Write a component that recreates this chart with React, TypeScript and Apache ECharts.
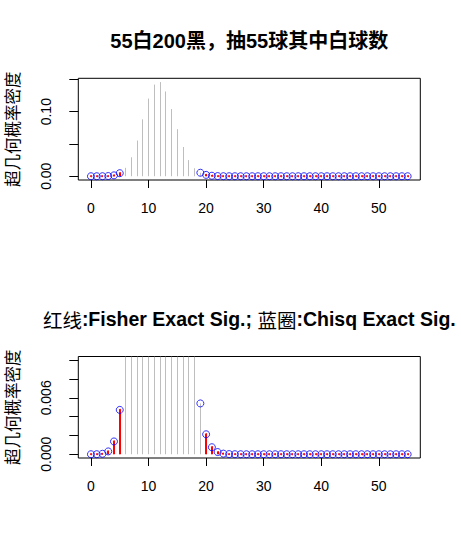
import React, { useEffect, useRef } from "react";
import * as echarts from "echarts";

// Hypergeometric probabilities P(X = k), k = 0..55 (55 white, 200 black, draw 55)
const probs: number[] = [
  0.00000023, 0.0000048, 0.0000474, 0.0003, 0.00136, 0.004718, 0.013019, 0.029378,
  0.055299, 0.088137, 0.120321, 0.141986, 0.145906, 0.131343, 0.104083, 0.072901,
  0.045281, 0.025008, 0.012309, 0.005407, 0.002124, 0.000746, 0.000235, 0.0000662,
  0.0000167, 0.0000038, 0.0000008, 0.0000001, 0, 0, 0, 0, 0, 0, 0, 0, 0, 0, 0, 0,
  0, 0, 0, 0, 0, 0, 0, 0, 0, 0, 0, 0, 0, 0, 0, 0,
];
// Significant outcomes
const fisherSig: number[] = [
  0, 1, 2, 3, 4, 5, 20, 21, 22, 23, 24, 25, 26, 27, 28, 29, 30, 31, 32, 33, 34, 35, 36, 37,
  38, 39, 40, 41, 42, 43, 44, 45, 46, 47, 48, 49, 50, 51, 52, 53, 54, 55,
];
const chisqSig: number[] = [
  0, 1, 2, 3, 4, 5, 19, 20, 21, 22, 23, 24, 25, 26, 27, 28, 29, 30, 31, 32, 33, 34, 35, 36,
  37, 38, 39, 40, 41, 42, 43, 44, 45, 46, 47, 48, 49, 50, 51, 52, 53, 54, 55,
];
const xTicks: number[] = [0, 10, 20, 30, 40, 50];
const yTicksTop: number[] = [0, 0.05, 0.1, 0.15];
const yLabelsTop: number[] = [0, 0.1];
const yTicksBottom: number[] = [0, 0.002, 0.004, 0.006, 0.008, 0.01];
const yLabelsBottom: number[] = [0, 0.006];

const title1 = "55白200黑，抽55球其中白球数";
const yName = "超几何概率密度";

const LATIN = "'Liberation Sans', Arial, 'Noto Sans CJK SC', sans-serif";
const CJK = "'Noto Sans CJK SC', 'Liberation Sans', sans-serif";

export default function App() {
  const ref = useRef<HTMLDivElement>(null);
  useEffect(() => {
    if (!ref.current) return;
    const chart = echarts.init(ref.current, undefined, { renderer: "svg" });

    const allPts = probs.map((p, k) => [k, p]);
    const fisherPts = fisherSig.map((k) => [k, probs[k]]);
    const chisqPts = chisqSig.map((k) => [k, probs[k]]);

    const yRanges = [
      { min: -0.00584, max: 0.15175 },
      { min: -0.0004, max: 0.0104 },
    ];

    const lineSeries = (idx: number, data: number[][], color: string, width: number, dot: boolean) => ({
      type: "custom",
      xAxisIndex: idx,
      yAxisIndex: idx,
      clip: true,
      data,
      renderItem: (params: any, api: any) => {
        const x = api.value(0);
        const y = Math.min(api.value(1), yRanges[idx].max);
        const p0 = api.coord([x, 0]);
        const p1 = api.coord([x, y]);
        const px = width % 2 === 0 ? Math.round(p0[0]) : Math.round(p0[0] - 0.5) + 0.5;
        const children: any[] = [
          {
            type: "line",
            shape: { x1: px, y1: p0[1], x2: px, y2: p1[1] },
            style: { stroke: color, lineWidth: width, lineCap: "butt" },
          },
        ];
        if (dot) {
          children.push({
            type: "circle",
            shape: { cx: px, cy: p1[1], r: width / 2 },
            style: { fill: color },
          });
        }
        return { type: "group", children };
      },
    });

    const circleSeries = (idx: number) => ({
      type: "scatter",
      xAxisIndex: idx,
      yAxisIndex: idx,
      data: chisqPts,
      symbol: "circle",
      symbolSize: 7,
      itemStyle: { color: "rgba(0,0,0,0)", borderColor: "#0000ff", borderWidth: 1 },
      z: 5,
    });

    const xAxis = (idx: number) => ({
      type: "value",
      gridIndex: idx,
      min: -2.2,
      max: 57.2,
      axisLine: { show: false, onZero: false },
      splitLine: { show: false },
      axisTick: {
        show: true,
        inside: false,
        length: 8,
        customValues: xTicks,
        lineStyle: { color: "#000", width: 1 },
      },
      axisLabel: {
        show: true,
        customValues: xTicks,
        margin: 21,
        fontSize: 14,
        fontFamily: LATIN,
        color: "#000",
      },
    });

    const yAxis = (idx: number, ticks: number[], labels: number[], dec: number) => ({
      type: "value",
      gridIndex: idx,
      min: yRanges[idx].min,
      max: yRanges[idx].max,
      axisLine: { show: false, onZero: false },
      splitLine: { show: false },
      name: yName,
      nameLocation: "middle",
      nameRotate: 90,
      nameGap: 58,
      nameMoveOverlap: false,
      nameTextStyle: { fontSize: 16.5, fontFamily: CJK, color: "#000" },
      axisTick: {
        show: true,
        inside: false,
        length: 9,
        customValues: ticks,
        lineStyle: { color: "#000", width: 1 },
      },
      axisLabel: {
        show: true,
        customValues: labels,
        rotate: 90,
        margin: 25,
        fontSize: 14,
        fontFamily: LATIN,
        color: "#000",
        formatter: (v: number) => v.toFixed(dec),
      },
    });

    const gridBase = {
      left: 78.3,
      width: 342,
      show: true,
      borderColor: "#000",
      borderWidth: 1,
      backgroundColor: "transparent",
      containLabel: false,
      outerBoundsMode: "none",
    };

    chart.setOption({
      animation: false,
      backgroundColor: "#fff",
      grid: [
        { ...gridBase, top: 78.3, height: 101.7 },
        { ...gridBase, top: 356.5, height: 101.5 },
      ],
      xAxis: [xAxis(0), xAxis(1)],
      yAxis: [yAxis(0, yTicksTop, yLabelsTop, 2), yAxis(1, yTicksBottom, yLabelsBottom, 3)],
      graphic: [
        {
          type: "text",
          x: 249.3,
          y: 41,
          style: {
            text: title1,
            fontSize: 20,
            fontWeight: "bold",
            fontFamily: LATIN,
            fill: "#000",
            align: "center",
            verticalAlign: "middle",
          },
        },
        {
          type: "text",
          x: 249.3,
          y: 319,
          style: {
            text: "{c|红线}{l|:Fisher Exact Sig.; }{c|蓝圈}{l|:Chisq Exact Sig.}",
            align: "center",
            verticalAlign: "middle",
            rich: {
              c: { fontSize: 19.5, fontFamily: CJK, fontWeight: "normal", fill: "#000" },
              l: { fontSize: 19.5, fontFamily: LATIN, fontWeight: "bold", fill: "#000" },
            },
          },
        },
      ],
      series: [
        lineSeries(0, allPts, "#bebebe", 1, false),
        lineSeries(0, fisherPts, "#ff0000", 2, true),
        circleSeries(0),
        lineSeries(1, allPts, "#bebebe", 1, false),
        lineSeries(1, fisherPts, "#ff0000", 2, true),
        circleSeries(1),
      ],
    });
    return () => chart.dispose();
  }, []);
  return (
    <div
      ref={ref}
      style={{ position: "fixed", left: 0, top: 0, width: 461, height: 556, background: "#fff" }}
    />
  );
}
